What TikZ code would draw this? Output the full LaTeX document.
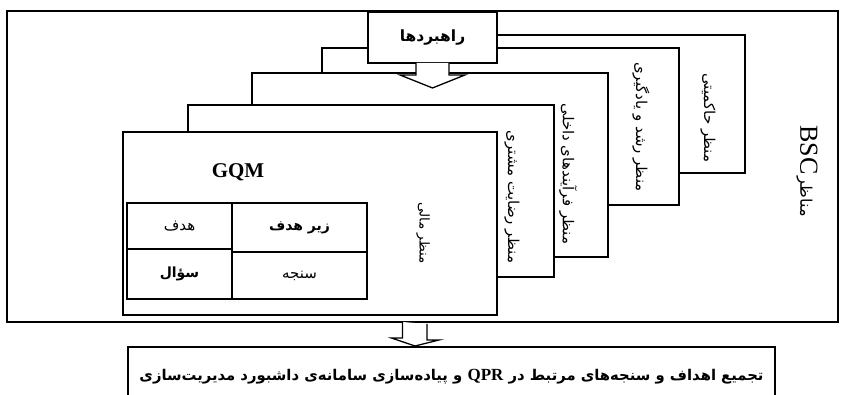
\documentclass[tikz,border=0pt]{standalone}
\usepackage{fontspec}
\setmainfont{Liberation Serif}
\newfontfamily\fa[Script=Arabic]{DejaVu Sans}
\TeXXeTstate=1
\usetikzlibrary{positioning,calc}

\begin{document}
\begin{tikzpicture}[x=1pt,y=-1pt,line width=1.3pt,
  card/.style={draw,fill=white,anchor=north west,inner sep=0pt,outer sep=0pt},
  vlabel/.style={rotate=-90,inner sep=0pt,font=\fa\fontsize{15}{17}\selectfont},
  cell/.style={draw,anchor=north west,inner sep=0pt,outer sep=0pt,font=\fa\fontsize{15}{17}\selectfont}]
  \clip (0,0) rectangle (841,395);
  % frame of the BSC views
  \node[card,minimum width=831pt,minimum height=311pt](bsc) at (7,11){};
  % views, back to front
  \node[card,minimum width=355pt,minimum height=138pt](gov) at (390,35){};
  \node[card,minimum width=357pt,minimum height=157pt](grow) at (322,48){};
  \node[card,minimum width=356pt,minimum height=184pt](proc) at (252,73){};
  \node[card,minimum width=366pt,minimum height=172pt](cust) at (188,105){};
  \node[card,minimum width=374pt,minimum height=183pt](fin) at (123,132){};
  \node[vlabel](govlbl) at (708,118){\beginR منظر حاکمیتی\endR};
  \node[vlabel](growlbl) at (641,127){\beginR منظر رشد و یادگیری\endR};
  \node[vlabel](proclbl) at (568,174){\beginR منظر فرآیندهای داخلی\endR};
  \node[vlabel](custlbl) at (512,197){\beginR منظر رضایت مشتری\endR};
  \node[vlabel,font=\fa\fontsize{13.5}{15}\selectfont](finlbl) at (423,233){\beginR منظر مالی\endR};
  \node[rotate=-90,inner sep=0pt](bsclbl) at (807,171){\beginR{\fa\fontsize{16}{18}\selectfont مناظر} \beginL{\fontsize{26}{28}\selectfont BSC}\endL\endR};
  % strategies
  \node[card,minimum width=129pt,minimum height=51pt,font=\fa\bfseries\fontsize{15.5}{17}\selectfont](strat) at (368,12){\beginR راهبردها\endR};
  \draw[fill=white]($(strat.south)+(-16.5,0)$) -- ++(0,12) -- ++(-16,0)
    -- ($(strat.south)+(0,25)$) -- ++(32.5,-13) -- ++(-16,0) -- ($(strat.south)+(16.5,0)$);
  % GQM
  \node[font=\bfseries\fontsize{21}{23}\selectfont](gqm) at (238,172){GQM};
  \node[cell,minimum width=105pt,minimum height=46pt](goal) at (127,203){\beginR هدف\endR};
  \node[cell,minimum width=105pt,minimum height=50pt,font=\fa\bfseries\fontsize{14}{16}\selectfont](quest) at (127,249){\beginR سؤال\endR};
  \node[cell,minimum width=135pt,minimum height=49pt,font=\fa\bfseries\fontsize{14}{16}\selectfont](subgoal) at (232,203){\beginR زیر هدف\endR};
  \node[cell,minimum width=135pt,minimum height=47pt](metric) at (232,252){\beginR سنجه\endR};
  % result
  \node[card,minimum width=647pt,minimum height=60pt,font=\fa\bfseries\fontsize{14.8}{17}\selectfont](res) at (128,347){\beginR تجمیع اهداف و سنجه‌های مرتبط در \beginL{\rmfamily\bfseries\fontsize{17}{19}\selectfont QPR}\endL{} و پیاده‌سازی سامانه‌ی داشبورد مدیریت‌سازی\endR};
  \path (bsc.south) ++(-7.5,0) coordinate (dn);
  \draw[fill=white](dn) ++(-12.5,0) -- ++(0,16) -- ++(-11,0)
    -- ($(dn|-res.north)+(0,-1)$) -- ++(24,-6) -- ++(-12,0) -- ++(0,-16);
\end{tikzpicture}
\end{document}
